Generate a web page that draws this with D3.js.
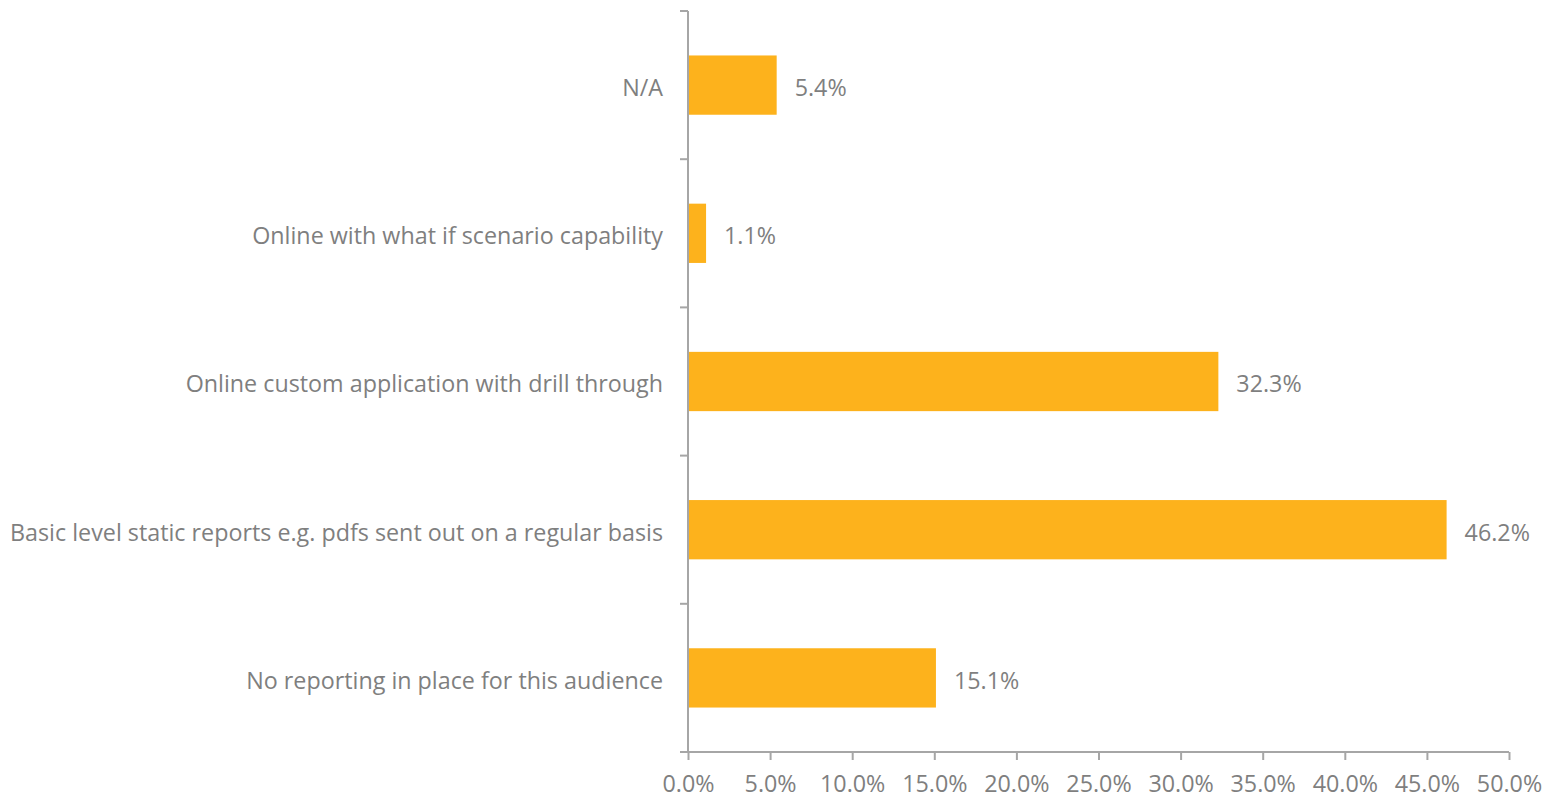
<!DOCTYPE html>
<html>
<head>
<meta charset="utf-8">
<script src="https://cdn.jsdelivr.net/npm/d3@7"></script>
<style>
  html, body { margin: 0; padding: 0; background: #fff; }
  svg text { font-family: "Open Sans", "Noto Sans", sans-serif; fill: #7f7f7f; }
</style>
</head>
<body>
<svg id="chart" width="1545" height="799"></svg>
<script>
// Reporting approach by category (share of respondents, %)
const categories = [
  "N/A",
  "Online with what if scenario capability",
  "Online custom application with drill through",
  "Basic level static reports e.g. pdfs sent out on a regular basis",
  "No reporting in place for this audience"
];
const values = [5.4, 1.1, 32.3, 46.2, 15.1];
const xTicks = [0, 5, 10, 15, 20, 25, 30, 35, 40, 45, 50];

const margin = { top: 11, left: 688, right: 36, bottom: 47 };
const width = 1545, height = 799;
const svg = d3.select("#chart");

const x = d3.scaleLinear().domain([0, 50]).range([margin.left, width - margin.right]);
const y = d3.scaleBand().domain(categories)
  .range([margin.top, height - margin.bottom])
  .paddingInner(0.6).paddingOuter(0.3);

const axisColor = "#a6a6a6";
const fontSize = 23.3;

// Bars
svg.append("g").selectAll("rect")
  .data(categories)
  .join("rect")
  .attr("x", x(0))
  .attr("y", d => y(d))
  .attr("width", (d, i) => x(values[i]) - x(0))
  .attr("height", y.bandwidth())
  .attr("fill", "#FDB21C");

// Value labels
svg.append("g").selectAll("text")
  .data(categories)
  .join("text")
  .attr("x", (d, i) => x(values[i]) + 18)
  .attr("y", d => y(d) + y.bandwidth() / 2)
  .attr("dy", "0.47em")
  .style("font-size", fontSize + "px")
  .text((d, i) => values[i].toFixed(1) + "%");

// Category axis: line plus ticks at band boundaries
const yAxis = svg.append("g");
const step = y.step();
const bounds = d3.range(categories.length + 1).map(i => margin.top + i * step);
yAxis.append("line")
  .attr("x1", x(0)).attr("x2", x(0))
  .attr("y1", margin.top).attr("y2", height - margin.bottom)
  .attr("stroke", axisColor).attr("stroke-width", 2);
yAxis.selectAll("line.tick")
  .data(bounds)
  .join("line")
  .attr("class", "tick")
  .attr("x1", x(0) - 8).attr("x2", x(0))
  .attr("y1", d => d).attr("y2", d => d)
  .attr("stroke", axisColor).attr("stroke-width", 2);
yAxis.selectAll("text")
  .data(categories)
  .join("text")
  .attr("x", x(0) - 25)
  .attr("y", d => y(d) + y.bandwidth() / 2)
  .attr("dy", "0.47em")
  .attr("text-anchor", "end")
  .style("font-size", fontSize + "px")
  .text(d => d);

// Value axis
const xAxis = svg.append("g")
  .attr("transform", `translate(0,${height - margin.bottom})`)
  .call(d3.axisBottom(x).tickValues(xTicks).tickSize(8).tickPadding(15)
    .tickFormat(d => d.toFixed(1) + "%"));
xAxis.select(".domain").attr("stroke", axisColor).attr("stroke-width", 2)
  .attr("d", `M${x(0)},0H${x(50)}`);
xAxis.selectAll(".tick line").attr("stroke", axisColor).attr("stroke-width", 2);
xAxis.selectAll(".tick text")
  .style("font-size", fontSize + "px")
  .attr("fill", null);
xAxis.attr("font-family", null).attr("font-size", null);
</script>
</body>
</html>
